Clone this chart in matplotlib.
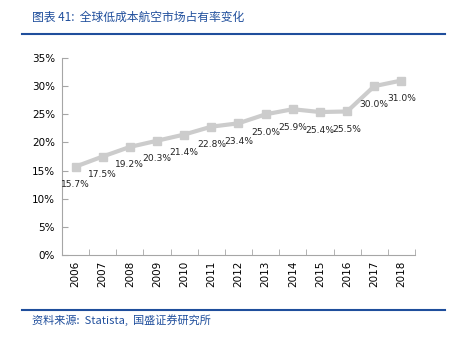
import numpy as np
import matplotlib.pyplot as plt
from matplotlib.lines import Line2D
from matplotlib.ticker import FixedLocator, NullFormatter

plt.rcParams['font.family'] = ['DejaVu Sans', 'Noto Sans CJK SC']

years = ["2006", "2007", "2008", "2009", "2010", "2011", "2012",
         "2013", "2014", "2015", "2016", "2017", "2018"]
share = [15.7, 17.5, 19.2, 20.3, 21.4, 22.8, 23.4, 25.0, 25.9, 25.4, 25.5, 30.0, 31.0]
yticks = [0, 5, 10, 15, 20, 25, 30, 35]

title = "图表 41:  全球低成本航空市场占有率变化"
source = "资料来源:  Statista,  国盛证券研究所"

blue = "#1F4E9C"
gray = "#CCCCCC"
axis_gray = "#A6A6A6"

fig = plt.figure(figsize=(4.6, 3.4), dpi=100)
ax = fig.add_axes([62 / 460, 1 - 255 / 340, (415 - 62) / 460, (255 - 58) / 340])

x = np.arange(len(years))
ax.plot(x, share, color=gray, lw=3, marker="s", ms=5.5, mfc=gray, mec=gray)
for xi, v in zip(x, share):
    ax.annotate(f"{v:.1f}%", (xi, v), xytext=(0, -13), textcoords="offset points",
                ha="center", va="center", fontsize=6.6, color="#222222")

ax.set_xlim(-0.5, len(years) - 0.5)
ax.set_ylim(0, 35)
ax.set_yticks(yticks)
ax.set_yticklabels([f"{t}%" for t in yticks], fontsize=7.5)
ax.set_xticks(x)
ax.set_xticklabels(years, rotation=90, fontsize=7.5)
ax.tick_params(axis="x", which="major", length=0, pad=4)
ax.xaxis.set_minor_locator(FixedLocator(np.arange(-0.5, len(years), 1.0)))
ax.xaxis.set_minor_formatter(NullFormatter())
ax.tick_params(axis="x", which="minor", length=4, color=axis_gray, direction="in")
ax.tick_params(axis="y", length=4, color=axis_gray, direction="in", pad=5)
for s in ["top", "right"]:
    ax.spines[s].set_visible(False)
for s in ["left", "bottom"]:
    ax.spines[s].set_color(axis_gray)
    ax.spines[s].set_linewidth(0.8)

fig.text(32 / 460, 1 - 17 / 340, title, color=blue, fontsize=8.5, style="italic",
         va="center", ha="left", family=["Noto Sans CJK SC", "DejaVu Sans"])
fig.add_artist(Line2D([22 / 460, 445 / 460], [1 - 34 / 340] * 2, color=blue, lw=1.5))
fig.add_artist(Line2D([22 / 460, 445 / 460], [1 - 310 / 340] * 2, color=blue, lw=1.5))
fig.text(32 / 460, 1 - 320 / 340, source, color=blue, fontsize=8, style="italic",
         va="center", ha="left", family=["Noto Sans CJK SC", "DejaVu Sans"])

fig.savefig("out.png", dpi=100)
